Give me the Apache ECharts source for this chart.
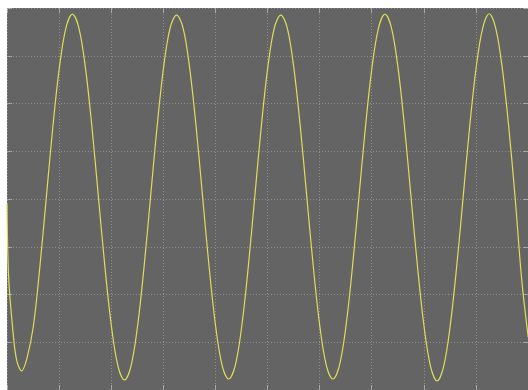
<!DOCTYPE html>
<html>
<head>
<meta charset="utf-8">
<script src="https://cdn.jsdelivr.net/npm/echarts@6/dist/echarts.min.js"></script>
<style>
html,body{margin:0;padding:0;background:#ffffff;}
#chart{width:528px;height:390px;}
</style>
</head>
<body>
<div id="chart"></div>
<script>
// Time in horizontal divisions, signal in vertical divisions
const timeDiv = [0, 0.03, 0.1, 0.18, 0.28, 0.38, 0.505,
  0.63, 0.755, 0.88, 1.005, 1.13, 1.255, 1.38, 1.505, 1.63, 1.755, 1.88, 2.005, 2.13,
  2.255, 2.38, 2.505, 2.63, 2.755, 2.88, 3.005, 3.13, 3.255, 3.38, 3.505, 3.63, 3.755, 3.88, 4.005, 4.13,
  4.255, 4.38, 4.505, 4.63, 4.755, 4.88, 5.005, 5.13, 5.255, 5.38, 5.505, 5.63, 5.755, 5.88, 6.005, 6.13,
  6.255, 6.38, 6.505, 6.63, 6.755, 6.88, 7.005, 7.13, 7.255, 7.38, 7.505, 7.63, 7.755, 7.88, 8.005, 8.13,
  8.255, 8.38, 8.505, 8.63, 8.755, 8.88, 9.005, 9.13, 9.255, 9.38, 9.505, 9.63, 9.755, 9.88, 10.005];
const volts = [-0.1, -1.6, -2.6, -3.35, -3.6, -3.35, -2.67,
  -1.43, 0.04, 1.51, 2.75, 3.58, 3.87, 3.58, 2.75, 1.51, 0.04, -1.43, -2.67, -3.50,
  -3.79, -3.50, -2.67, -1.43, 0.04, 1.51, 2.75, 3.58, 3.85, 3.58, 2.75, 1.51, 0.04, -1.43, -2.67, -3.49,
  -3.77, -3.49, -2.67, -1.43, 0.04, 1.51, 2.75, 3.58, 3.85, 3.58, 2.75, 1.51, 0.04, -1.43, -2.67, -3.49,
  -3.77, -3.49, -2.67, -1.43, 0.04, 1.51, 2.75, 3.58, 3.87, 3.58, 2.75, 1.51, 0.04, -1.43, -2.67, -3.51,
  -3.81, -3.51, -2.67, -1.43, 0.04, 1.51, 2.75, 3.58, 3.88, 3.58, 2.75, 1.51, 0.0, -1.7, -2.9];

const chart = echarts.init(document.getElementById('chart'), null, {renderer: 'canvas'});
const dotted = {color: '#8e8e8e', width: 1, type: [1, 2]};
const tickStyle = {show: true, inside: true, length: 5, lineStyle: {color: '#a8a8a8', width: 1}};
chart.setOption({
  animation: false,
  backgroundColor: '#ffffff',
  grid: {left: 7, top: 8, width: 524, height: 384, show: true, backgroundColor: '#646464', borderWidth: 0},
  xAxis: [
    {type: 'value', min: 0, max: 10, interval: 1, position: 'bottom',
     axisLine: {show: false, onZero: false}, axisLabel: {show: false}, axisTick: tickStyle,
     splitLine: {show: true, lineStyle: dotted}},
    {type: 'value', min: 0, max: 10, interval: 1, position: 'top',
     axisLine: {show: false, onZero: false}, axisLabel: {show: false}, axisTick: tickStyle,
     splitLine: {show: false}}
  ],
  yAxis: [
    {type: 'value', min: -4, max: 4, interval: 1, position: 'left',
     axisLine: {show: false, onZero: false}, axisLabel: {show: false}, axisTick: tickStyle,
     splitLine: {show: true, lineStyle: dotted}},
    {type: 'value', min: -4, max: 4, interval: 1, position: 'right',
     axisLine: {show: false, onZero: false}, axisLabel: {show: false}, axisTick: tickStyle,
     splitLine: {show: false}}
  ],
  series: [{
    type: 'line',
    xAxisIndex: 0, yAxisIndex: 0,
    data: timeDiv.map((t, i) => [t, volts[i]]),
    smooth: 0.35,
    showSymbol: false,
    lineStyle: {color: '#dede58', width: 1.2},
    clip: true
  }]
});
</script>
</body>
</html>
